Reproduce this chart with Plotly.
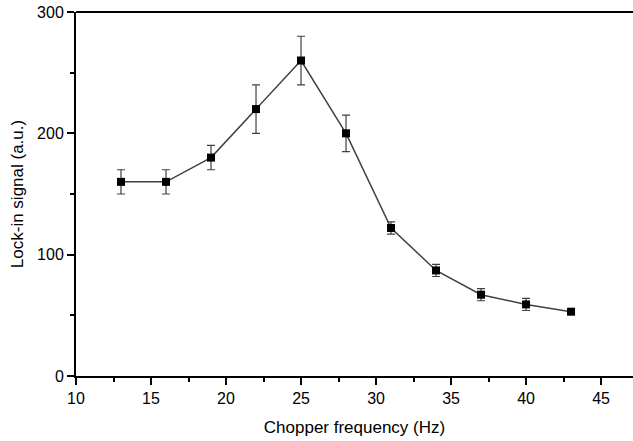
import plotly.graph_objects as go

freq = [13, 16, 19, 22, 25, 28, 31, 34, 37, 40, 43]
signal = [160, 160, 180, 220, 260, 200, 122, 87, 67, 59, 53]
err = [10, 10, 10, 20, 20, 15, 5, 5, 5, 5, 1]

x_ticks = [10, 15, 20, 25, 30, 35, 40, 45]
y_ticks = [0, 100, 200, 300]

fig = go.Figure()
fig.add_trace(go.Scatter(
    x=freq, y=signal, mode="lines+markers",
    line=dict(color="#404040", width=1.5),
    marker=dict(symbol="square", size=8, color="black"),
    error_y=dict(type="data", array=err, visible=True, color="#404040", thickness=1.2, width=4),
    showlegend=False,
))

font = dict(family="Liberation Sans, Arial, sans-serif", size=16, color="black")

fig.update_layout(
    width=633, height=441,
    margin=dict(l=76, r=0, t=12, b=65),
    paper_bgcolor="white", plot_bgcolor="white",
    font=font,
    xaxis=dict(
        range=[10, 47.13], tickvals=x_ticks, showgrid=False, zeroline=False,
        showline=True, linecolor="black", linewidth=2,
        ticks="outside", ticklen=7, tickwidth=2, tickcolor="black",
        minor=dict(ticks="outside", ticklen=4, tickwidth=2, tickcolor="black", dtick=2.5, showgrid=False),
        title=dict(text="Chopper frequency (Hz)", font=dict(size=17), standoff=15),
    ),
    yaxis=dict(
        range=[0, 300], tickvals=y_ticks, showgrid=False, zeroline=False,
        showline=True, linecolor="black", linewidth=2,
        ticks="outside", ticklen=7, tickwidth=2, tickcolor="black",
        minor=dict(ticks="outside", ticklen=4, tickwidth=2, tickcolor="black", dtick=50, showgrid=False),
        title=dict(text="Lock-in signal (a.u.)", font=dict(size=17), standoff=9),
    ),
    shapes=[dict(type="line", xref="paper", yref="paper", x0=0, x1=1, y0=1, y1=1,
                 line=dict(color="black", width=2))],
)

fig.write_html("out.html")
